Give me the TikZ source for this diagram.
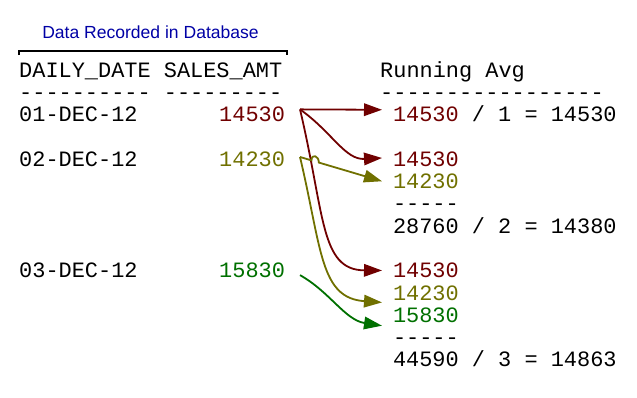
\documentclass[tikz,border=0pt]{standalone}
\usepackage{fontspec}
\setmainfont{Liberation Sans}
\setmonofont{Liberation Mono}
\usetikzlibrary{arrows.meta,calc}

\definecolor{dbblue}{RGB}{0,0,165}
\definecolor{amtred}{RGB}{112,0,0}
\definecolor{amtolive}{RGB}{112,112,0}
\definecolor{amtgreen}{RGB}{0,112,0}

\tikzset{
  mono/.style={font=\ttfamily\fontsize{22}{22}\selectfont, inner sep=0pt, anchor=base west},
  amtval/.style={mono, anchor=base east, outer xsep=15bp},
  avgval/.style={mono, outer xsep=11bp},
  feed/.style={line width=1.8bp, -{Triangle[length=18bp,width=12.5bp]}},
}

\begin{document}
\begin{tikzpicture}[x=1bp, y=-1bp]
  \useasboundingbox (0,0) rectangle (637,397);

  \node[font=\fontsize{17.6}{17.6}\selectfont, text=dbblue] (title) at (150.5,32) {Data Recorded in Database};
  \draw[line width=1.8bp] (19,55) |- (287,51) -- (287,55);

  \node[mono] (hdr) at (19,77) {DAILY\_DATE SALES\_AMT};
  \node[mono] (hdrline) at (19,99.3) {---------- ---------};
  \node[mono] (d1) at (19,121.6) {01-DEC-12};
  \node[mono] (d2) at (19,166.2) {02-DEC-12};
  \node[mono] (d3) at (19,277.7) {03-DEC-12};
  \node[amtval, text=amtred] (v1) at (300,121.6) {14530};
  \node[amtval, text=amtolive] (v2) at (300,166.2) {14230};
  \node[amtval, text=amtgreen] (v3) at (300,277.7) {15830};

  \node[mono] (avghdr) at (380,77) {Running Avg};
  \node[mono] (avgline) at (380,99.3) {-----------------};
  \node[avgval] (r1) at (382,121.6) {\textcolor{amtred}{14530} / 1 = 14530};
  \node[avgval, text=amtred] (r2a) at (382,166.2) {14530};
  \node[avgval, text=amtolive] (r2b) at (382,188.5) {14230};
  \node[avgval] (r2line) at (382,210.8) {-----};
  \node[avgval] (r2sum) at (382,233.1) {28760 / 2 = 14380};
  \node[avgval, text=amtred] (r3a) at (382,277.7) {14530};
  \node[avgval, text=amtolive] (r3b) at (382,300) {14230};
  \node[avgval, text=amtgreen] (r3c) at (382,322.3) {15830};
  \node[avgval] (r3line) at (382,344.6) {-----};
  \node[avgval] (r3sum) at (382,366.9) {44590 / 3 = 14863};

  \coordinate (hopa) at ($([yshift=2bp]v2.east)!0.14!(r2b.west)$);
  \coordinate (hopb) at ($([yshift=2bp]v2.east)!0.23!(r2b.west)$);

  \draw[feed, amtred] ([yshift=5bp]v1.east) -- ([yshift=4bp]r1.west);
  \draw[feed, amtred] ([yshift=5bp]v1.east) .. controls (332,132) and (345,160) .. ([yshift=1bp]r2a.west);
  \draw[feed, amtred] ([yshift=5bp]v1.east) .. controls (325,215) and (320,270) .. (r3a.west);
  \draw[feed, amtolive] ([yshift=2bp]v2.east) -- (hopa) .. controls +(0,-7) and +(0,-7) .. (hopb) -- (r2b.west);
  \draw[feed, amtolive] ([yshift=2bp]v2.east) .. controls (322,250) and (320,298) .. ([yshift=-2bp]r3b.south west);
  \draw[feed, amtgreen] ([yshift=3bp]v3.south east) .. controls (330,292) and (345,320) .. ([yshift=-3bp]r3c.south west);
\end{tikzpicture}
\end{document}
